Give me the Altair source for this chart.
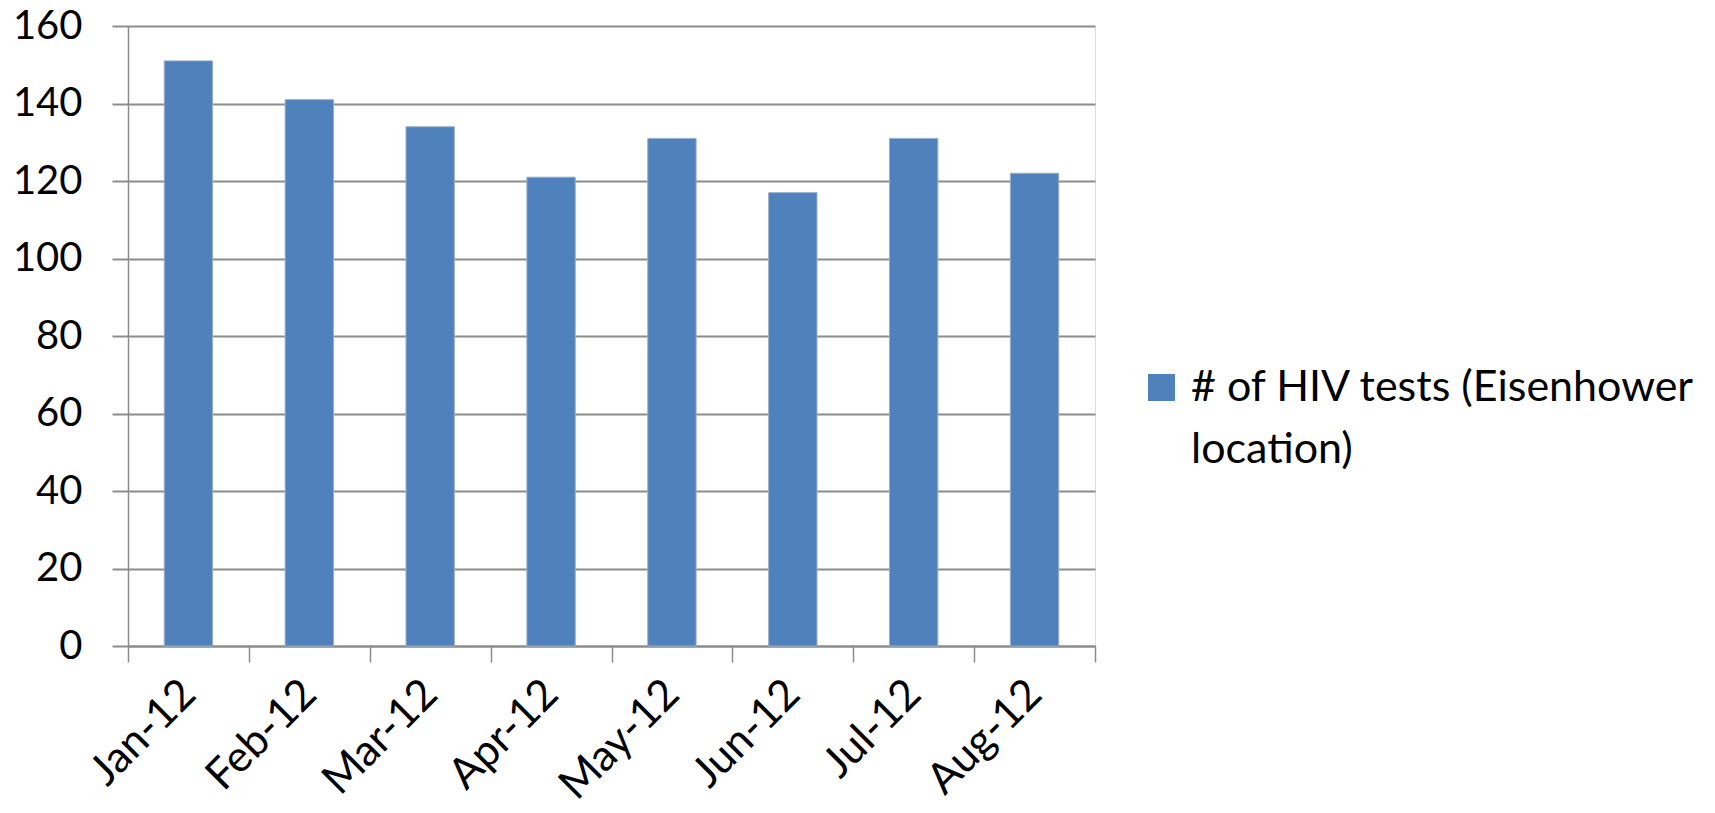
import altair as alt
import pandas as pd

# Monthly HIV test counts at the Eisenhower location
months = ["Jan-12", "Feb-12", "Mar-12", "Apr-12", "May-12", "Jun-12", "Jul-12", "Aug-12"]
tests = [151, 141, 134, 121, 131, 117, 131, 122]
series_name = "# of HIV tests (Eisenhower location)"
legend_lines = ["# of HIV tests (Eisenhower", "location)"]

df = pd.DataFrame({"month": months, "tests": tests, "series": [series_name] * len(months)})

FONT = "Lato"
GRID = "#8c8c8c"

legend_expr = "[" + ", ".join("'" + s + "'" for s in legend_lines) + "]"

chart = (
    alt.Chart(df)
    .mark_bar(color="#4F81BD", stroke="#9aaec8", strokeWidth=1, width=alt.RelativeBandSize(0.4))
    .encode(
        x=alt.X(
            "month:N",
            sort=months,
            title=None,
            scale=alt.Scale(paddingInner=0, paddingOuter=0),
            axis=alt.Axis(
                labelAngle=-45,
                labelAlign="right",
                labelBaseline="middle",
                labelFontSize=43,
                labelFont=FONT,
                labelColor="black",
                labelPadding=25,
                tickBand="extent",
                tickSize=16,
                tickColor=GRID,
                tickWidth=1.5,
                domainColor=GRID,
                domainWidth=2,
                grid=False,
            ),
        ),
        y=alt.Y(
            "tests:Q",
            title=None,
            scale=alt.Scale(domain=[0, 160], nice=False),
            axis=alt.Axis(
                values=list(range(0, 161, 20)),
                labelFontSize=40,
                labelFont=FONT,
                labelColor="black",
                labelPadding=30,
                tickSize=16,
                tickColor=GRID,
                tickWidth=2,
                domainColor=GRID,
                domainWidth=1.5,
                grid=True,
                gridColor=GRID,
                gridWidth=2,
                gridOpacity=1,
            ),
        ),
        color=alt.Color(
            "series:N",
            scale=alt.Scale(domain=[series_name], range=["#4F81BD"]),
            legend=alt.Legend(
                title=None,
                orient="none",
                legendX=1012,
                legendY=340,
                symbolType="square",
                symbolSize=729,
                symbolStrokeWidth=0,
                labelFont=FONT,
                labelFontSize=43,
                labelColor="black",
                labelLimit=800,
                labelOffset=8,
                labelExpr=legend_expr,
            ),
        ),
    )
    .properties(
        width=967,
        height=620,
        autosize=alt.AutoSizeParams(type="none"),
        padding={"left": 128, "top": 26, "right": 620, "bottom": 167},
    )
    .configure_view(stroke=None)
    .configure(background="white", style={"guide-label": {"lineHeight": 62}})
)

chart.save("out.html", embed_options={"renderer": "svg", "actions": False})
